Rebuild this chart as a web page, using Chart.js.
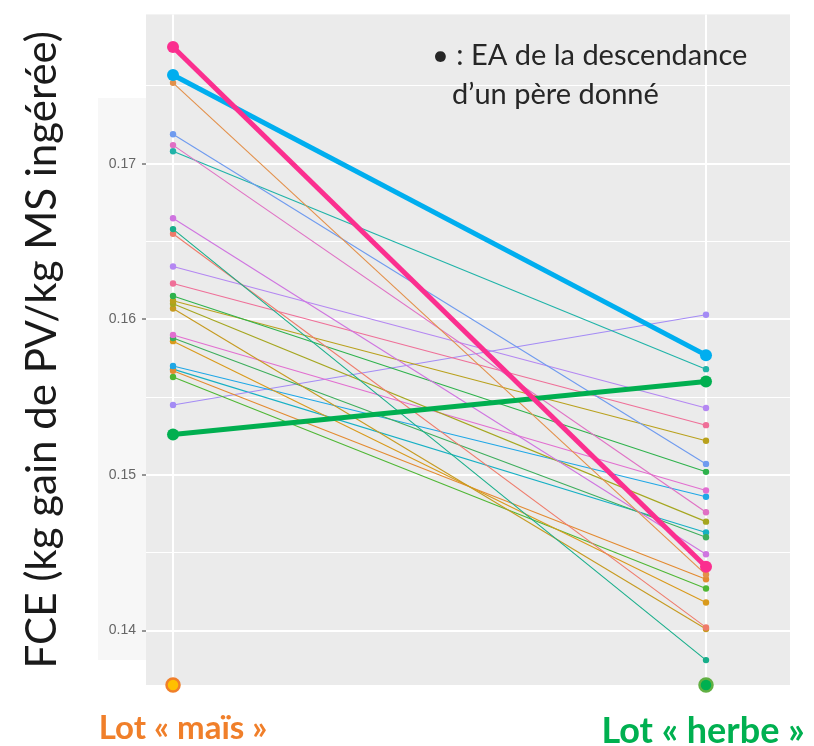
<!DOCTYPE html>
<html>
<head>
<meta charset="utf-8">
<script src="https://cdn.jsdelivr.net/npm/chart.js@4.4.0/dist/chart.umd.min.js"></script>
<style>
  html, body { margin: 0; padding: 0; background: #fff; }
  #wrap { width: 814px; height: 746px; position: relative; }
</style>
</head>
<body>
<div id="wrap"><canvas id="fce"></canvas></div>
<script>
// categories (x positions 1 and 2 on a linear scale)
const lots = ['Lot « maïs »', 'Lot « herbe »'];
const lotPos = [1, 2];

// EA of each sire's progeny, one line per sire (maïs -> herbe)
const peresMais  = [0.1752, 0.1719, 0.1712, 0.1708, 0.1665, 0.1658, 0.1655, 0.1634, 0.1623, 0.1615, 0.1612,
                    0.1610, 0.1607, 0.1590, 0.1588, 0.1586, 0.1570, 0.1567, 0.1563, 0.1545, 0.1568];
const peresHerbe = [0.1436, 0.1507, 0.1476, 0.1568, 0.1449, 0.1381, 0.1402, 0.1543, 0.1532, 0.1502, 0.1522,
                    0.1470, 0.1401, 0.1490, 0.1460, 0.1418, 0.1486, 0.1433, 0.1427, 0.1603, 0.1463];

// highlighted sires
const highlightMais  = [0.1775, 0.1757, 0.1526];
const highlightHerbe = [0.1441, 0.1577, 0.1560];

// y axis
const yMajorTicks = [0.14, 0.15, 0.16, 0.17];
const yMinorTicks = [0.145, 0.155, 0.165, 0.175];
const yMin = 0.1365, yMax = 0.1796;

const thinColors = ['#E3904A', '#6F9BEF', '#E070C4', '#1FB3A8', '#CF74E0', '#17AE8A', '#EF7B6B',
                    '#B487F2', '#EF6F98', '#2EB24C', '#B9A11C', '#A5A61F', '#C69A20', '#E26ED0',
                    '#3DAE5C', '#D99A1B', '#1FA7E6', '#E38A30', '#4FB734', '#A48BF5', '#16B0C4'];
const highlightColors = ['#FB2F8F', '#00AEEF', '#00AF50'];

const isMajor = v => yMajorTicks.some(t => Math.abs(t - v) < 1e-6);

const datasets = [];
highlightMais.forEach((v, i) => {
    datasets.push({
        data: [{x: lotPos[0], y: v}, {x: lotPos[1], y: highlightHerbe[i]}],
        borderColor: highlightColors[i],
        backgroundColor: highlightColors[i],
        borderWidth: 5,
        pointRadius: 6,
        pointBorderWidth: 0,
        order: i
    });
});
peresMais.forEach((v, i) => {
    datasets.push({
        data: [{x: lotPos[0], y: v}, {x: lotPos[1], y: peresHerbe[i]}],
        borderColor: thinColors[i],
        backgroundColor: thinColors[i],
        borderWidth: 1.1,
        pointRadius: 3.2,
        pointBorderWidth: 0,
        order: 5
    });
});
// marker dots under each lot
datasets.push({
    data: lotPos.map(x => ({x: x, y: yMin})),
    showLine: false,
    pointRadius: 6.5,
    pointBackgroundColor: ['#FFC000', '#00B050'],
    pointBorderColor: ['#F07F2A', '#62B043'],
    pointBorderWidth: 2.5,
    clip: false,
    order: 0
});

const panelPlugin = {
    id: 'panel',
    beforeDraw(chart) {
        const {ctx, chartArea: a} = chart;
        ctx.save();
        ctx.fillStyle = '#F7F7F7';
        ctx.fillRect(98, 98, a.left - 98, 562);
        ctx.fillStyle = '#EBEBEB';
        ctx.fillRect(a.left, a.top, a.right - a.left, a.bottom - a.top);
        ctx.restore();
    },
    afterDraw(chart) {
        const {ctx} = chart;
        const xs = chart.scales.x;
        ctx.save();
        // note
        ctx.fillStyle = '#262626';
        ctx.font = '29px Lato';
        ctx.textAlign = 'left';
        ctx.textBaseline = 'alphabetic';
        ctx.fillText('• : EA de la descendance', 432, 65);
        ctx.fillText('d’un père donné', 452, 104);
        // lot labels
        ctx.textAlign = 'center';
        ctx.font = 'bold 33px Lato';
        ctx.fillStyle = '#F07F2A';
        ctx.fillText(lots[0], xs.getPixelForValue(lotPos[0]) + 10, 739);
        ctx.font = 'bold 36px Lato';
        ctx.fillStyle = '#00B050';
        ctx.fillText(lots[1], xs.getPixelForValue(lotPos[1]) - 3, 743);
        ctx.restore();
    }
};

new Chart(document.getElementById('fce'), {
    type: 'line',
    data: { datasets: datasets },
    plugins: [panelPlugin],
    options: {
        responsive: true,
        maintainAspectRatio: false,
        animation: false,
        layout: { padding: { top: 10, right: 24, bottom: 61, left: 0 } },
        plugins: { legend: { display: false }, tooltip: { enabled: false } },
        elements: { line: { tension: 0 } },
        scales: {
            x: {
                type: 'linear',
                min: 0.9493,
                max: 2.1576,
                afterBuildTicks: s => { s.ticks = lotPos.map(v => ({value: v})); },
                afterFit: s => { s.height = 0; },
                ticks: { display: false },
                grid: { color: '#FFFFFF', lineWidth: 2, drawTicks: false },
                border: { display: false }
            },
            y: {
                min: yMin,
                max: yMax,
                afterBuildTicks: s => {
                    s.ticks = yMajorTicks.concat(yMinorTicks).sort((a, b) => a - b).map(v => ({value: v}));
                },
                afterFit: s => { s.width = 146; },
                ticks: {
                    autoSkip: false,
                    padding: 6,
                    color: '#666666',
                    font: { family: 'Liberation Sans', size: 14 },
                    callback: v => isMajor(v) ? v.toFixed(2) : ''
                },
                grid: {
                    color: '#FFFFFF',
                    lineWidth: c => isMajor(c.tick.value) ? 2 : 1,
                    tickLength: 4,
                    tickColor: c => isMajor(c.tick.value) ? '#333333' : 'rgba(0,0,0,0)',
                    tickWidth: 1
                },
                border: { display: false },
                title: {
                    display: true,
                    text: 'FCE (kg gain de PV/kg MS ingérée)',
                    color: '#1A1A1A',
                    font: { family: 'Lato', size: 42 },
                    padding: { top: 17, bottom: 0 }
                }
            }
        }
    }
});
</script>
</body>
</html>
